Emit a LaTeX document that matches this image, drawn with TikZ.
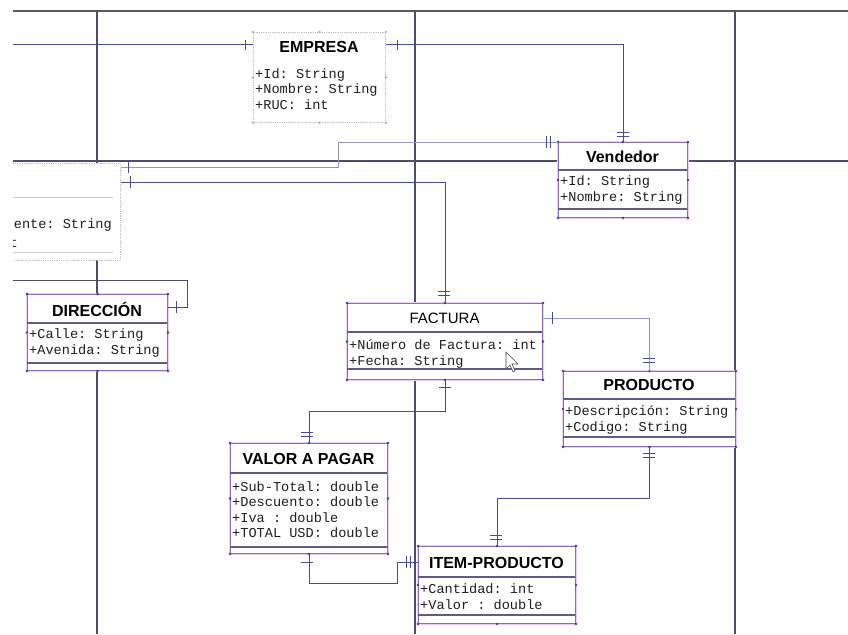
\documentclass[tikz,border=0pt]{standalone}
\usepackage{fontspec}
\setmainfont{Liberation Sans}
\setmonofont{Liberation Mono}
\usetikzlibrary{calc}

\definecolor{pagegray}{RGB}{78,78,108}
\definecolor{linkblue}{RGB}{75,75,145}
\definecolor{linklight}{RGB}{150,150,195}
\definecolor{boxline}{RGB}{140,110,185}
\definecolor{boxglow}{RGB}{235,205,245}
\definecolor{sepgray}{RGB}{100,90,135}
\definecolor{handleblue}{RGB}{70,60,140}

\tikzset{
  pagerule/.style={pagegray, line width=1.6pt},
  classbox/.style={draw=boxline, fill=white, line width=1pt, anchor=north west, inner sep=0pt,
    preaction={draw=boxglow, line width=3.2pt}},
  ghostbox/.style={draw=black!25, densely dotted, fill=white, line width=0.8pt, anchor=north west, inner sep=0pt},
  classname/.style={font=\fontsize{16}{18}\selectfont\bfseries, inner sep=0pt},
  attrs/.style={font=\fontsize{13.6}{15.5}\selectfont\ttfamily, text=black!88, align=left, anchor=west, inner sep=0pt},
  sepline/.style={sepgray, line width=1.1pt},
  link/.style={linkblue, line width=1pt},
  lightlink/.style={linklight, line width=1pt},
  tick/.style={linkblue, line width=0.9pt}
}

\begin{document}
\begin{tikzpicture}[x=1pt,y=-1pt]
\useasboundingbox (0,0) rectangle (848,634);
% page breaks of the sheet
\draw[pagerule, line width=2.6pt, black!65] (13,11) -- (848,11);
\draw[pagerule] (13,161) -- (848,161);
\draw[pagerule] (97,11) -- (97,634);
\draw[pagerule] (415,11) -- (415,634);
\draw[pagerule] (735,11) -- (735,634);

% class cut by the window edge
\begin{scope}
\clip (13,0) rectangle (848,634);
\node[ghostbox, minimum width=180pt, minimum height=97pt] (cliente) at (-60,163) {};
\draw[black!20, line width=0.8pt] (13,197) -- (113,197) (13,252) -- (113,252);
\node[attrs, anchor=east] (clienteA) at (112,225) {+Cliente: String};
\node[attrs, anchor=east] (clienteB) at (18,243) {int};
\end{scope}

% classes
\node[ghostbox, minimum width=132pt, minimum height=90pt] (empresa) at (253,32) {};
\node[classbox, minimum width=129pt, minimum height=75pt] (vendedor) at (558,142) {};
\node[classbox, minimum width=140pt, minimum height=76pt] (direccion) at (27,294) {};
\node[classbox, minimum width=195pt, minimum height=76pt] (factura) at (347,303) {};
\node[classbox, minimum width=172pt, minimum height=75pt] (producto) at (563,371) {};
\node[classbox, minimum width=157pt, minimum height=110pt] (valor) at (230,443) {};
\node[classbox, minimum width=157pt, minimum height=77pt] (item) at (418,546) {};

\draw[sepline] (558,170) -- (687,170) (558,209) -- (687,209);
\draw[sepline] (27,323) -- (167,323) (27,363) -- (167,363);
\draw[sepline] (347,332) -- (542,332) (347,369) -- (542,369);
\draw[sepline] (563,399) -- (735,399) (563,437) -- (735,437);
\draw[sepline] (230,473) -- (387,473) (230,547) -- (387,547);
\draw[sepline] (418,577) -- (575,577) (418,615) -- (575,615);

\foreach \a in {north west,north,north east,east,south east,south,south west,west}
  \fill[black!30] (empresa.\a) circle (1.4);
\foreach \b in {vendedor,direccion,factura,producto,valor,item}
  \foreach \a in {north west,north,north east,east,south east,south,south west,west}
    \fill[handleblue] (\b.\a) circle (1.4);

\node[classname] (empresaT) at (319,47) {EMPRESA};
\node[classname] (vendedorT) at (622.5,157) {Vendedor};
\node[classname] (direccionT) at (97,309) {DIRECCIÓN};
\node[classname, font=\fontsize{15}{18}\selectfont] (facturaT) at (444.5,318) {FACTURA};
\node[classname] (productoT) at (649,385) {PRODUCTO};
\node[classname] (valorT) at (308.5,459) {VALOR A PAGAR};
\node[classname] (itemT) at (496.5,563) {ITEM-PRODUCTO};

\node[attrs] (empresaA) at (255,89) {+Id: String\\+Nombre: String\\+RUC: int};
\node[attrs] (vendedorA) at (560,190) {+Id: String\\+Nombre: String};
\node[attrs] (direccionA) at (29,343) {+Calle: String\\+Avenida: String};
\node[attrs] (facturaA) at (349,354) {+Número de Factura: int\\+Fecha: String};
\node[attrs] (productoA) at (565,420) {+Descripción: String\\+Codigo: String};
\node[attrs] (valorA) at (232,509.5) {+Sub-Total: double\\+Descuento: double\\+Iva : double\\+TOTAL USD: double};
\node[attrs] (itemA) at (420,596.5) {+Cantidad: int\\+Valor : double};

% mouse pointer
\draw[black!70, fill=white, line width=0.6pt] (506,352) -- ++(0,17) -- ++(4,-4) -- ++(3,7) -- ++(2,-1) -- ++(-3,-7) -- ++(6,0) -- cycle;

% relations
\coordinate (offE) at (13,45);
\coordinate (offD) at (13,280);
\coordinate (bendD) at (187,307);
\coordinate (bendV) at (338,167);
\coordinate (rowF) at (0,182);
\coordinate (rowP) at (0,318);
\coordinate (bendI) at (397,562);

\draw[link] (offE) -- (empresa.west |- offE);
\draw[link] (empresa.east |- offE) -| (vendedor.north);
\draw[lightlink] (cliente.east |- bendV) -- (bendV) |- (vendedor.north west);
\draw[link] (cliente.east |- rowF) -| (factura.north);
\draw[link] (factura.south) -- ++(0,31) -| (valor.north);
\draw[link] (valor.south) -- ++(0,29) -| (bendI) -- (item.west |- bendI);
\draw[lightlink] (factura.east |- rowP) -| (producto.north);
\draw[link] (producto.south) -- ++(0,51) -| (item.north);
\draw[pagerule, line width=1pt] (offD) -| (bendD) -- (direccion.east |- bendD);

% multiplicity bars
\draw[tick] (245,40) -- (245,50) (397,40) -- (397,50);
\draw[tick] (617,132) -- (629,132) (617,136) -- (629,136);
\draw[tick] (128,161) -- (128,173) (546,136) -- (546,148) (550,136) -- (550,148);
\draw[tick] (130,176) -- (130,188) (438,291) -- (450,291) (438,295) -- (450,295);
\draw[tick] (439,387) -- (451,387) (301,432) -- (313,432) (301,436) -- (313,436);
\draw[tick] (301,562) -- (313,562) (406,556) -- (406,568) (410,556) -- (410,568);
\draw[tick] (552,312) -- (552,324) (643,358) -- (655,358) (643,362) -- (655,362);
\draw[tick] (643,453) -- (655,453) (643,457) -- (655,457);
\draw[tick] (490,535) -- (502,535) (490,539) -- (502,539);
\draw[tick] (176,301) -- (176,313);
\end{tikzpicture}
\end{document}
